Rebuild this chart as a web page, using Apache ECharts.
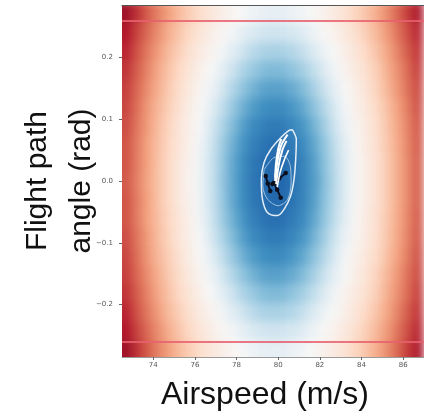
<!DOCTYPE html>
<html><head><meta charset="utf-8">
<script src="https://cdn.jsdelivr.net/npm/echarts@6/dist/echarts.min.js"></script>
<style>
html,body{margin:0;padding:0;background:#fff}
#wrap{position:relative;width:424px;height:416px}
#field,#c{position:absolute;left:0;top:0;width:424px;height:416px}
#field{filter:blur(5px);clip-path:inset(5px 0px 58px 122px)}
</style>
</head><body><div id="wrap"><div id="field"></div><div id="c"></div></div>
<script>
// cell centres of the colour field
const airspeedCells = [72.75,73.25,73.75,74.25,74.75,75.25,75.75,76.25,76.75,77.25,77.75,78.25,78.75,79.25,79.75,80.25,80.75,81.25,81.75,82.25,82.75,83.25,83.75,84.25,84.75,85.25,85.75,86.25,86.75];
const angleCells = [-0.27,-0.24,-0.21,-0.18,-0.15,-0.12,-0.09,-0.06,-0.03,0,0.03,0.06,0.09,0.12,0.15,0.18,0.21,0.24,0.27];
// colour level (-100 deep blue .. 0 white .. 100 deep red), one row per angle cell (bottom to top)
const fieldLevels = [
[85,72,60,50,41,32,25,18,12,7,3,0,-4,-8,-9,-9,-6,-2,1,5,10,15,22,29,37,47,58,70,82],
[80,67,56,46,36,28,20,13,7,2,-2,-9,-15,-19,-21,-20,-17,-12,-5,1,5,11,17,25,33,43,54,65,77],
[76,63,52,42,32,24,16,9,4,-2,-11,-19,-27,-31,-33,-32,-29,-23,-14,-5,1,7,13,21,29,39,50,61,73],
[72,60,49,38,29,20,13,6,0,-9,-20,-30,-37,-43,-45,-44,-40,-33,-24,-13,-3,4,10,17,25,36,46,57,70],
[69,57,46,36,26,18,10,3,-4,-16,-28,-39,-47,-53,-55,-54,-50,-43,-33,-21,-9,1,7,14,23,33,44,55,67],
[67,55,43,33,24,15,8,1,-9,-23,-36,-47,-56,-61,-64,-63,-58,-51,-41,-28,-15,-2,5,12,20,30,41,52,65],
[65,53,42,31,22,13,6,-1,-14,-29,-42,-54,-63,-68,-71,-70,-65,-58,-47,-34,-20,-6,3,10,18,28,39,50,63],
[63,51,40,30,21,12,5,-3,-18,-33,-47,-58,-68,-73,-76,-75,-70,-63,-52,-39,-24,-9,2,9,17,27,38,49,62],
[63,51,40,29,20,11,4,-5,-20,-35,-50,-61,-71,-76,-79,-78,-73,-66,-55,-41,-26,-11,1,8,16,26,37,48,61],
[62,50,39,29,20,11,3,-5,-20,-36,-50,-62,-72,-77,-80,-79,-74,-66,-56,-42,-27,-11,1,8,16,26,37,48,61],
[63,51,40,29,20,11,4,-5,-20,-35,-50,-61,-71,-76,-79,-78,-73,-66,-55,-41,-26,-11,1,8,16,26,37,48,61],
[63,51,40,30,21,12,5,-3,-18,-33,-47,-58,-68,-73,-76,-75,-70,-63,-52,-39,-24,-9,2,9,17,27,38,49,62],
[65,53,42,31,22,13,6,-1,-14,-29,-42,-54,-63,-68,-71,-70,-65,-58,-47,-34,-20,-6,3,10,18,28,39,50,63],
[67,55,43,33,24,15,8,1,-9,-23,-36,-47,-56,-61,-64,-63,-58,-51,-41,-28,-15,-2,5,12,20,30,41,52,65],
[69,57,46,36,26,18,10,3,-4,-16,-28,-39,-47,-53,-55,-54,-50,-43,-33,-21,-9,1,7,14,23,33,44,55,67],
[72,60,49,38,29,20,13,6,0,-9,-20,-30,-37,-43,-45,-44,-40,-33,-24,-13,-3,4,10,17,25,36,46,57,70],
[76,63,52,42,32,24,16,9,4,-2,-11,-19,-27,-31,-33,-32,-29,-23,-14,-5,1,7,13,21,29,39,50,61,73],
[80,67,56,46,36,28,20,13,7,2,-2,-9,-15,-19,-21,-20,-17,-12,-5,1,5,11,17,25,33,43,54,65,77],
[85,72,60,50,41,32,25,18,12,7,3,0,-4,-8,-9,-9,-6,-2,1,5,10,15,22,29,37,47,58,70,82]
];
const xTicks = [74,76,78,80,82,84,86];
const yTicks = [-0.2,-0.1,0,0.1,0.2];
const limitAngles = [0.2618,-0.2618];

const outerContourX = [80.68,80.87,80.84,80.76,80.60,80.28,79.96,79.48,79.24,79.19,79.32,79.64,80.12,80.52,80.68];
const outerContourY = [0.083,0.067,0.035,0.003,-0.024,-0.046,-0.056,-0.051,-0.029,0.003,0.030,0.051,0.070,0.082,0.083];
const innerContourX = [79.32,79.26,79.50,80.00,80.45,80.62,80.58,80.30,79.80,79.32];
const innerContourY = [0.018,-0.008,-0.030,-0.040,-0.030,-0.003,0.024,0.040,0.038,0.018];
const trajA_X = [79.85,79.95,80.15,80.45];
const trajA_Y = [0.000,0.030,0.058,0.075];
const trajB_X = [79.90,80.02,80.20,80.40];
const trajB_Y = [-0.005,0.025,0.050,0.065];
const trajC_X = [79.85,79.90,80.00,80.15];
const trajC_Y = [0.005,0.030,0.052,0.068];
const trajD_X = [79.95,80.10,80.30,80.50];
const trajD_Y = [-0.010,0.015,0.035,0.050];
const darkA_X = [79.40,79.50,79.62];
const darkA_Y = [0.008,-0.004,-0.016];
const darkB_X = [80.36,80.05,79.72];
const darkB_Y = [0.013,0.004,-0.005];
const darkC_X = [79.80,79.95,80.12];
const darkC_Y = [-0.003,-0.014,-0.027];

const zip = (a,b) => a.map((v,i)=>[v,b[i]]);
const fieldData = [];
angleCells.forEach((y,j)=>airspeedCells.forEach((x,i)=>fieldData.push([x,y,fieldLevels[j][i]])));
const fmtY = v => (v<0?'\u2212':'') + Math.abs(v).toFixed(1);
const path = (c, color, width, z, sym) => ({type:'line', data:c, showSymbol:!!sym, symbol:'circle', symbolSize:sym||0,
  smooth:0.3, silent:true, itemStyle:{color:color}, lineStyle:{color:color, width:width}, z:z});

const GRID = {left:122, right:0, top:5, bottom:58, containLabel:false};
const X_RANGE = {min:72.5, max:87};
const Y_RANGE = {min:-0.285, max:0.285};
const xFirst = airspeedCells[0], xLast = airspeedCells[airspeedCells.length-1];
const yFirst = angleCells[0], yLast = angleCells[angleCells.length-1];

// colour field layer (softened like the original raster image)
const fieldChart = echarts.init(document.getElementById('field'), null, {renderer:'canvas'});
fieldChart.setOption({
  animation:false,
  grid:GRID,
  visualMap:{type:'continuous', show:false, seriesIndex:0, dimension:2, min:-100, max:100,
    inRange:{color:['#053061','#2166ac','#4393c3','#92c5de','#d1e5f0','#f7f7f7','#fddbc7','#f4a582','#d6604d','#b2182b','#67001f']}},
  xAxis:Object.assign({type:'value', show:false}, X_RANGE),
  yAxis:Object.assign({type:'value', show:false}, Y_RANGE),
  series:[{type:'custom', name:'field', data:fieldData, encode:{x:0,y:1}, silent:true, clip:false,
    renderItem:(params, api)=>{
      const xv = api.value(0), yv = api.value(1);
      const p = api.coord([xv, yv]);
      const s = api.size([0.5, 0.03]);
      let x0 = p[0]-s[0]/2-0.3, x1 = p[0]+s[0]/2+0.3, y0 = p[1]-s[1]/2-0.3, y1 = p[1]+s[1]/2+0.3;
      const pad = 14;
      if (xv === xFirst) x0 -= pad;
      if (xv === xLast) x1 += pad;
      if (yv === yFirst) y1 += pad;
      if (yv === yLast) y0 -= pad;
      return {type:'rect', shape:{x:x0, y:y0, width:x1-x0, height:y1-y0}, style:{fill:api.visual('color')}};
    }}]
});

const chart = echarts.init(document.getElementById('c'), null, {renderer:'canvas'});
chart.setOption({
  animation:false,
  backgroundColor:'transparent',
  grid:GRID,
  xAxis:[Object.assign({type:'value', z:6,
    name:'Airspeed (m/s)', nameLocation:'middle', nameGap:22, nameMoveOverlap:false,
    nameTextStyle:{fontSize:32, color:'#111', fontFamily:'Liberation Sans', padding:[0,16,0,0]},
    axisLine:{show:true, onZero:false, lineStyle:{color:'#999', width:1}},
    axisTick:{show:true, customValues:xTicks, length:3, lineStyle:{color:'#666'}},
    axisLabel:{customValues:xTicks, fontSize:7, color:'#555', margin:5, fontFamily:'DejaVu Sans'},
    splitLine:{show:false}}, X_RANGE),
   Object.assign({type:'value', position:'top', z:6,
    axisLine:{show:true, onZero:false, lineStyle:{color:'#555', width:1.2}},
    axisTick:{show:false}, axisLabel:{show:false}, splitLine:{show:false}}, X_RANGE)],
  yAxis:Object.assign({type:'value', z:6,
    name:'Flight path\nangle (rad)', nameLocation:'middle', nameRotate:90, nameGap:18, nameMoveOverlap:false,
    nameTextStyle:{fontSize:30, lineHeight:44, color:'#111', fontFamily:'Liberation Sans'},
    axisLine:{show:false, onZero:false},
    axisTick:{show:true, customValues:yTicks, length:3, lineStyle:{color:'#666'}},
    axisLabel:{customValues:yTicks, formatter:fmtY, fontSize:7, color:'#555', margin:9, fontFamily:'DejaVu Sans'},
    splitLine:{show:false}}, Y_RANGE),
  series:[
    path(zip(outerContourX,outerContourY), '#e3eef8', 1.5, 3),
    path(zip(innerContourX,innerContourY), '#9fc3e3', 1, 3),
    path(zip(darkA_X,darkA_Y), '#0b0f1e', 2, 4, 4.5),
    path(zip(darkB_X,darkB_Y), '#0b0f1e', 2, 4, 4.5),
    path(zip(darkC_X,darkC_Y), '#0b0f1e', 2, 4, 4.5),
    path(zip(trajA_X,trajA_Y), '#ffffff', 2, 5),
    path(zip(trajB_X,trajB_Y), '#ffffff', 2, 5),
    path(zip(trajC_X,trajC_Y), '#ffffff', 2, 5),
    path(zip(trajD_X,trajD_Y), '#ffffff', 1.6, 5),
    {type:'line', data:[], silent:true,
     markLine:{silent:true, symbol:['none','none'], label:{show:false},
       lineStyle:{color:'#e8606e', width:2, type:'solid', opacity:0.85},
       data:limitAngles.map(v=>({yAxis:v}))}}
  ]
});
</script></body></html>
